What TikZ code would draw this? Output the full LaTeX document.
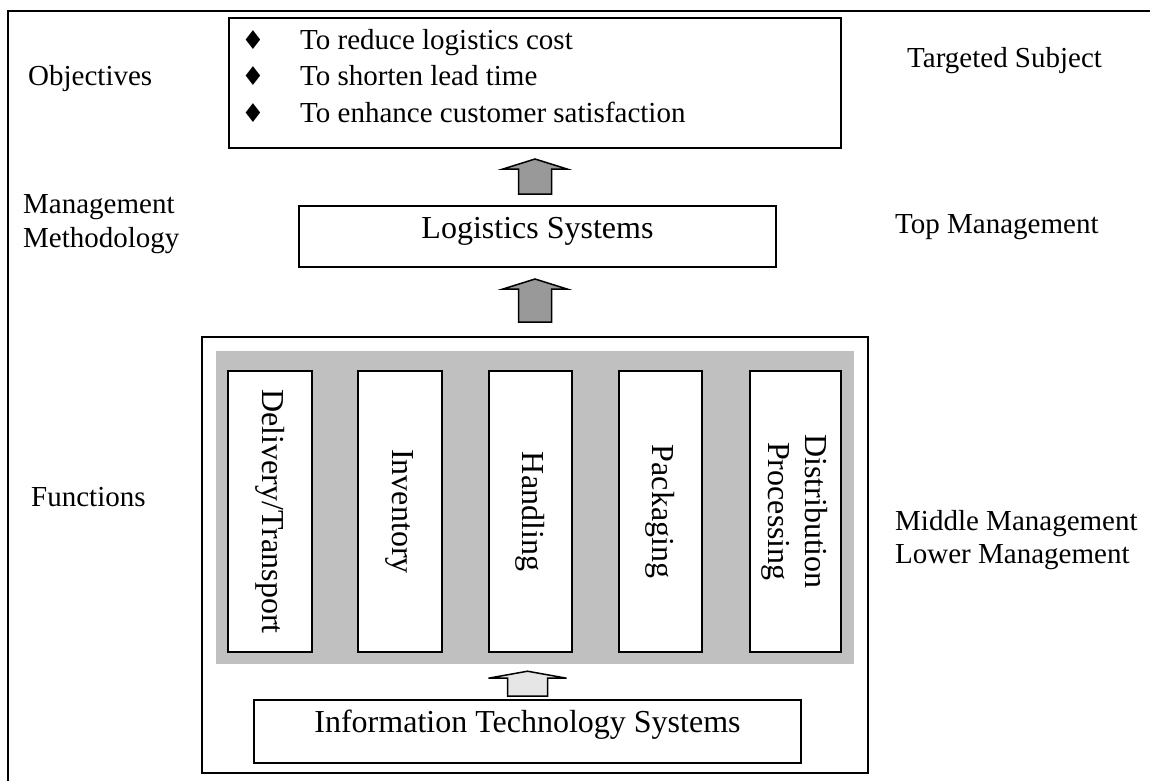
\documentclass[tikz,border=0pt]{standalone}
\usepackage{fontspec}
\setmainfont{Liberation Serif}
\newfontfamily\symbolsfont{DejaVu Sans}
\usetikzlibrary{calc}

\definecolor{panelgray}{HTML}{C0C0C0}
\definecolor{arrowdark}{HTML}{999999}
\definecolor{arrowlight}{HTML}{E6E6E6}

% hollow block arrow pointing up: fill, tip, base, head half-width, shaft half-width, head height
\newcommand\liftarrow[6]{%
  \filldraw[blockarrow, fill=#1] (#2) -- ++(#4,#6) -| ($(#3)+(#5,0)$)
    -- ($(#3)+(-#5,0)$) |- ($(#2)+(-#4,#6)$) -- cycle;}

\begin{document}
\begin{tikzpicture}[x=1pt, y=-1pt,
  box/.style={draw, line width=2pt, fill=white, inner sep=0pt},
  caption/.style={inner sep=0pt, anchor=base west, font=\fontsize{29}{34}\selectfont},
  bigtext/.style={font=\fontsize{32}{37}\selectfont},
  bulletmark/.style={inner sep=0pt, anchor=base, font=\symbolsfont\fontsize{26}{26}\selectfont},
  column/.style={box, bigtext, rotate=-90, minimum width=281pt, align=center},
  blockarrow/.style={draw, line width=1.5pt, line join=miter}]

\useasboundingbox (0,0) rectangle (1150,780);

% frame
\draw[line width=2.5pt] (1152,11) -- (8,11) -- (8,782);

% objectives
\node[box, minimum width=612pt, minimum height=130pt] (obj) at (535,83) {};
\node[bulletmark] (d1) at (253,49) {♦};
\node[bulletmark] (d2) at (253,85) {♦};
\node[bulletmark] (d3) at (253,122) {♦};
\node[caption] (o1) at (300,49) {To reduce logistics cost};
\node[caption] (o2) at (300,85) {To shorten lead time};
\node[caption] (o3) at (300,122) {To enhance customer satisfaction};

% logistics systems
\node[box, bigtext, minimum width=477pt, text height=32pt, text depth=29pt]
  (logi) at (537.5,236.5) {Logistics Systems};

% functions
\node[box, minimum width=666pt, minimum height=436pt] (funcs) at (535,555) {};
\node[fill=panelgray, inner sep=0pt, minimum width=638pt, minimum height=313pt]
  (panel) at (535,507.5) {};
\node[column, minimum height=84pt] (c1) at (270,511.5) {Delivery/Transport};
\node[column, minimum height=84pt] (c2) at (400,511.5) {Inventory};
\node[column, minimum height=83pt] (c3) at (530.5,511.5) {Handling};
\node[column, minimum height=83pt] (c4) at (660,511.5) {Packaging};
\node[column, minimum height=91pt] (c5) at (795,511.5) {Distribution\\Processing};

\node[box, bigtext, minimum width=547pt, text height=32pt, text depth=31pt]
  (it) at (527.5,731.5) {Information Technology Systems};

% block arrows
\coordinate (t1) at ($(obj.south)+(0,10)$);
\coordinate (b1) at ($(logi.north -| obj.south)+(0,-11)$);
\liftarrow{arrowdark}{t1}{b1}{32}{16.5}{10}
\coordinate (t2) at ($(logi.south -| obj.south)+(0,11)$);
\coordinate (b2) at ($(funcs.north)+(0,-14)$);
\liftarrow{arrowdark}{t2}{b2}{32}{16.5}{10}
\coordinate (t3) at ($(panel.south -| it.north)+(0,7)$);
\coordinate (b3) at ($(it.north)+(0,-3)$);
\liftarrow{arrowlight}{t3}{b3}{39}{20}{7}

% level labels
\node[caption] (lobj) at (28,85) {Objectives};
\node[caption] (lman1) at (23,213) {Management};
\node[caption] (lman2) at (23,247) {Methodology};
\node[caption] (lfun) at (31,506) {Functions};

\node[caption] (rtar) at (907,67) {Targeted Subject};
\node[caption] (rtop) at (895,233) {Top Management};
\node[caption] (rmid) at (895,530) {Middle Management};
\node[caption] (rlow) at (895,563) {Lower Management};
\end{tikzpicture}
\end{document}
